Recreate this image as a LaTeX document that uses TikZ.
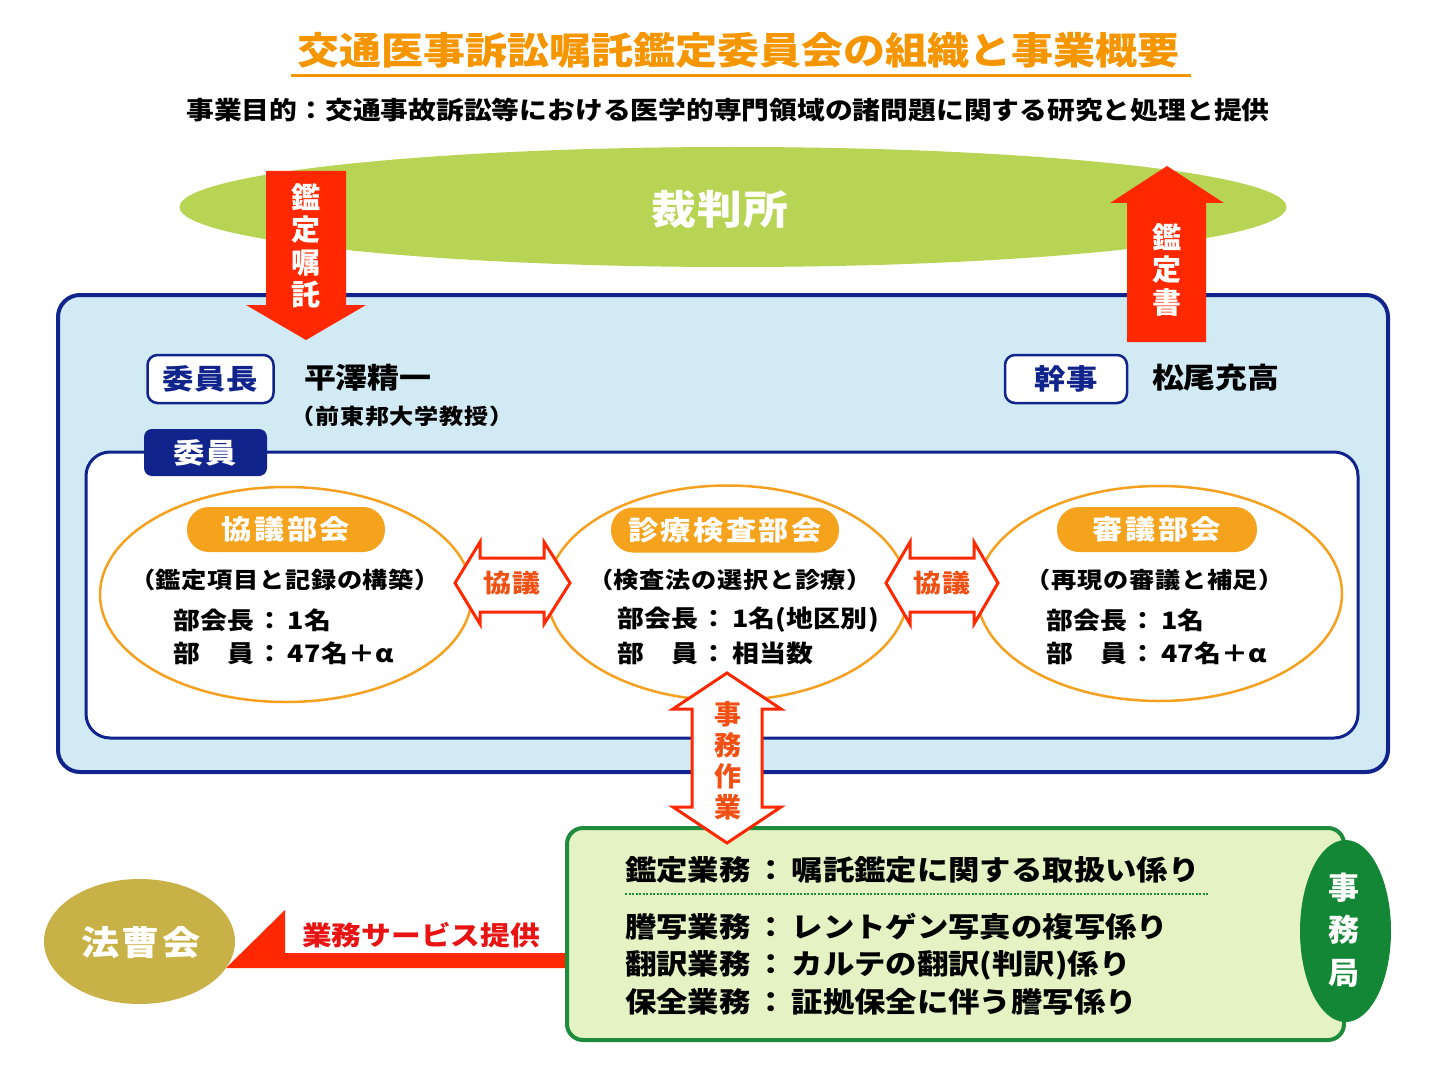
\documentclass[tikz,border=0pt]{standalone}
\usepackage{fontspec}
\setmainfont{Noto Sans CJK JP}
\newfontfamily\jw{Noto Sans CJK JP}[FakeStretch=1.12]
\newfontfamily\jn{Noto Sans CJK JP}
\usetikzlibrary{shapes.geometric}
\definecolor{titleor}{RGB}{245,150,0}
\definecolor{courtg}{RGB}{183,212,84}
\definecolor{arrred}{RGB}{255,40,0}
\definecolor{lblue}{RGB}{210,234,243}
\definecolor{navy}{RGB}{16,36,140}
\definecolor{ellor}{RGB}{245,160,30}
\definecolor{pillor}{RGB}{245,162,28}
\definecolor{boxg}{RGB}{228,242,196}
\definecolor{boxgd}{RGB}{30,140,60}
\definecolor{jimug}{RGB}{20,135,55}
\definecolor{hosog}{RGB}{200,178,72}
\definecolor{txtor}{RGB}{240,80,20}
\definecolor{svcred}{RGB}{232,20,20}
\newcommand\ft[3]{\fontsize{#1}{#2}\selectfont\addfontfeature{LetterSpace=#3}}
\begin{document}
\begin{tikzpicture}[x=1pt,y=-1pt,
  every node/.style={inner sep=0pt, outer sep=0pt},
  ell/.style={ellipse, draw=ellor, line width=2.5pt, fill=white, minimum height=215pt},
  pill/.style={fill=pillor, rounded corners=22pt, minimum height=45pt, text=white, font=\jw\bfseries\ft{27}{30}{9}},
  subl/.style={font=\jw\bfseries\ft{22.5}{24}{3}},
  meml/.style={anchor=west, font=\jw\bfseries\ft{24}{27}{1}},
  kyogi/.style={arrred, line width=3pt, fill=white, line join=miter},
  kyogit/.style={text=txtor, font=\jw\bfseries\ft{25}{28}{2}},
  headbox/.style={draw=navy, line width=2.5pt, fill=white, rounded corners=10pt, minimum height=48pt, text=navy, font=\jw\bfseries\ft{28}{30}{2}},
  namet/.style={anchor=west, font=\jw\bfseries\ft{28.5}{30}{0}},
  vtxt/.style={align=center, text=white},
  offl/.style={anchor=west, font=\jw\bfseries\ft{28}{30}{0}}
]
\path[use as bounding box, fill=white] (0,0) rectangle (1448,1086);

% title
\node[font=\jw\bfseries\ft{37.5}{40}{0}, text=titleor] (title) at (738,50) {交通医事訴訟嘱託鑑定委員会の組織と事業概要};
\coordinate (ul1) at (291,76);
\coordinate (ul2) at (1191,76);
\draw[titleor, line width=3pt] (ul1) -- (ul2);
\node[font=\jw\bfseries\ft{24.8}{28}{0}] (purpose) at (728,110) {事業目的：交通事故訴訟等における医学的専門領域の諸問題に関する研究と処理と提供};

% court
\node[ellipse, fill=courtg, minimum width=1107pt, minimum height=120pt] (court) at (733,207) {};
\node[text=white, font=\jw\bfseries\ft{40}{44}{3}] (courtlbl) at (720,209) {裁判所};

% outer box
\node[draw=navy, line width=4pt, fill=lblue, rounded corners=22pt, minimum width=1330pt, minimum height=477pt] (outer) at (723,533.5) {};

% arrows court <-> committee
\fill[arrred] (266,171) -- (346,171) -- (346,305) -- (366,305) -- (306,340) -- (246,305) -- (266,305) -- cycle;
\node[vtxt, font=\jn\bfseries\fontsize{29}{32.5}\selectfont] (req) at (306,246) {鑑\\定\\嘱\\託};
\fill[arrred] (1127,342) -- (1127,203) -- (1110,203) -- (1167,166) -- (1224,203) -- (1206,203) -- (1206,342) -- cycle;
\node[vtxt, font=\jn\bfseries\fontsize{29}{32.5}\selectfont] (rep) at (1167,270) {鑑\\定\\書};

% chair and secretary
\node[headbox, minimum width=126pt] (chair) at (210.5,379) {委員長};
\node[namet] (chairname) at (304,378) {平澤精一};
\node[font=\jw\bfseries\ft{21.5}{24}{4}] (chairaff) at (402,416) {（前東邦大学教授）};
\node[headbox, minimum width=122pt] (sec) at (1066,379) {幹事};
\node[namet] (secname) at (1152,378) {松尾充高};

% inner box
\node[draw=navy, line width=3pt, fill=white, rounded corners=24pt, minimum width=1272pt, minimum height=286pt] (inner) at (722,595) {};
\node[fill=navy, rounded corners=8pt, minimum width=123pt, minimum height=47pt, text=white, font=\jw\bfseries\ft{28}{30}{2}] (member) at (205.5,452.5) {委員};

% sections
\node[ell, minimum width=372pt] (e1) at (286,594.5) {};
\node[ell, minimum width=361pt] (e2) at (727.5,593) {};
\node[ell, minimum width=365pt] (e3) at (1159.5,593.5) {};
\node[pill, minimum width=198pt] (p1) at (286,529.5) {協議部会};
\node[pill, minimum width=228pt] (p2) at (725,530) {診療検査部会};
\node[pill, minimum width=200pt] (p3) at (1157,529.5) {審議部会};
\node[subl] (s1) at (285,580) {（鑑定項目と記録の構築）};
\node[subl] (s2) at (730,580) {（検査法の選択と診療）};
\node[subl] (s3) at (1155,580) {（再現の審議と補足）};
\node[meml] (h1) at (173,620) {部会長\hspace{2pt}：\hspace{5pt}1名};
\node[meml] (m1) at (173,653) {部　員\hspace{2pt}：\hspace{5pt}47名＋α};
\node[meml] (h2) at (617,620) {部会長\hspace{2pt}：\hspace{5pt}1名(地区別)};
\node[meml] (m2) at (617,653) {部　員\hspace{2pt}：\hspace{5pt}相当数};
\node[meml] (h3) at (1046,620) {部会長\hspace{2pt}：\hspace{5pt}1名};
\node[meml] (m3) at (1046,653) {部　員\hspace{2pt}：\hspace{5pt}47名＋α};

% consultation arrows
\draw[kyogi] (455,583) -- (480,542) -- (480,558) -- (544,558) -- (544,542) -- (570,583) -- (544,624) -- (544,612) -- (480,612) -- (480,624) -- cycle;
\node[kyogit] (k1) at (512,583) {協議};
\draw[kyogi] (886,583) -- (910,542) -- (910,558) -- (974,558) -- (974,542) -- (998,583) -- (974,624) -- (974,612) -- (910,612) -- (910,624) -- cycle;
\node[kyogit] (k2) at (942,583) {協議};

% service arrow to 法曹会
\fill[arrred] (575,953) -- (285,953) -- (285,910) -- (226,968) -- (575,968) -- cycle;
\node[text=svcred, font=\jw\bfseries\ft{26.5}{30}{0}] (svc) at (421,935) {業務サービス提供};
\node[ellipse, fill=hosog, minimum width=191pt, minimum height=125pt] (hoso) at (139.5,941.5) {};
\node[text=white, font=\jw\bfseries\ft{34}{38}{8}] (hosolbl) at (141,943) {法曹会};

% office box
\node[draw=boxgd, line width=4pt, fill=boxg, rounded corners=16pt, minimum width=777pt, minimum height=212pt] (office) at (955.5,934) {};
\node[offl] (l1) at (625,870) {鑑定業務\hspace{5pt}：\hspace{5pt}嘱託鑑定に関する取扱い係り};
\coordinate (d1) at (625,894);
\coordinate (d2) at (1209,894);
\draw[boxgd, line width=2.5pt, dash pattern=on 2pt off 1.5pt] (d1) -- (d2);
\node[offl] (l2) at (625,927) {謄写業務\hspace{5pt}：\hspace{5pt}レントゲン写真の複写係り};
\node[offl] (l3) at (625,965) {翻訳業務\hspace{5pt}：\hspace{5pt}カルテの翻訳(判訳)係り};
\node[offl] (l4) at (625,1002) {保全業務\hspace{5pt}：\hspace{5pt}証拠保全に伴う謄写係り};
\node[ellipse, fill=jimug, minimum width=91pt, minimum height=182pt] (jimu) at (1345.5,931) {};
\node[vtxt, font=\jn\bfseries\fontsize{31}{42.5}\selectfont] (jimulbl) at (1344,930) {事\\務\\局};

% clerical work arrow
\draw[kyogi] (727,673) -- (781,709) -- (762,709) -- (762,807) -- (781,807) -- (727,843) -- (673,807) -- (692,807) -- (692,709) -- (673,709) -- cycle;
\node[align=center, text=txtor, font=\jn\bfseries\fontsize{27}{31}\selectfont] (jm) at (728,761) {事\\務\\作\\業};
\end{tikzpicture}
\end{document}
